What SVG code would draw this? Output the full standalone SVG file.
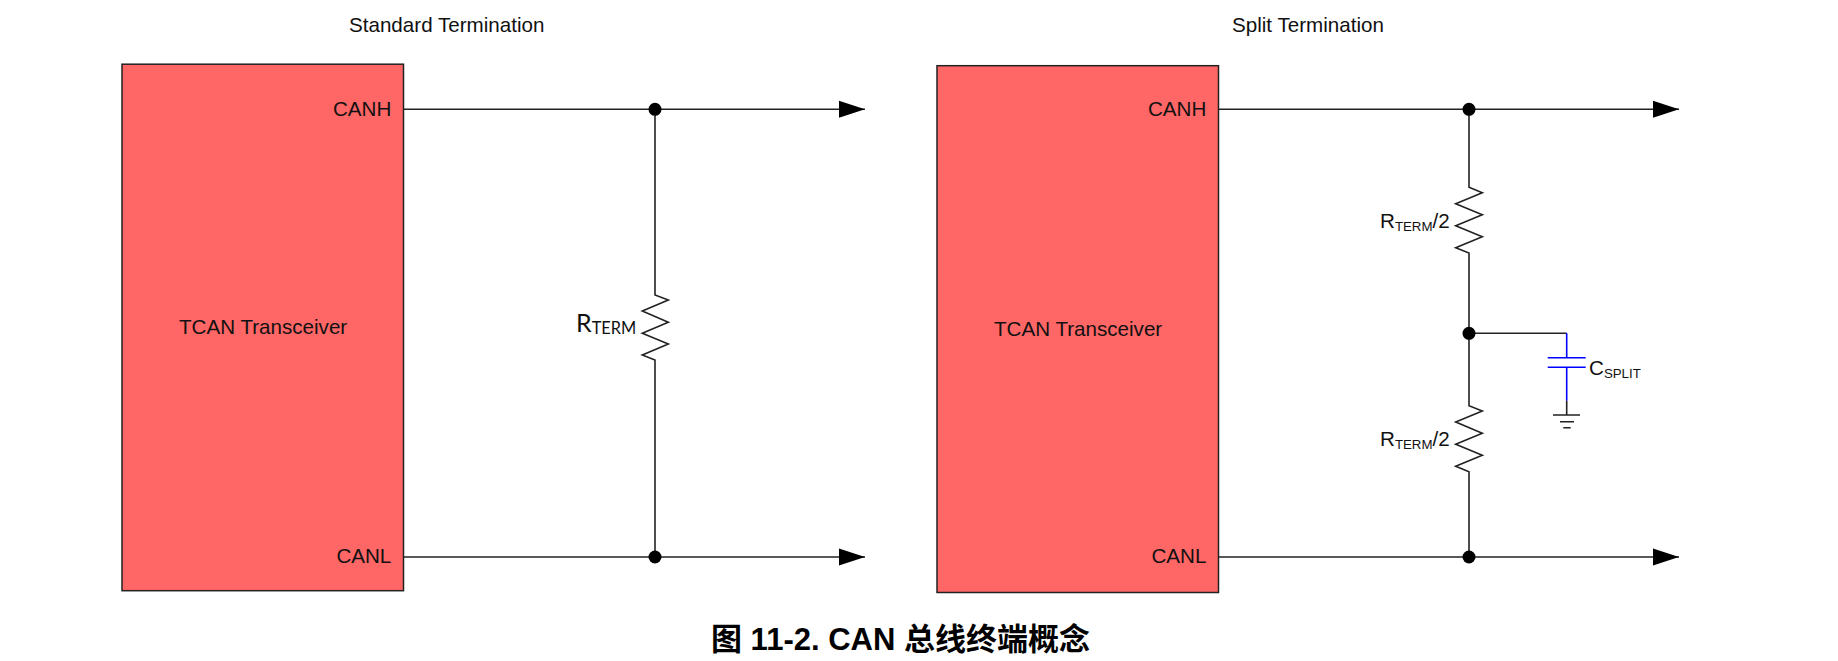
<svg xmlns="http://www.w3.org/2000/svg" width="1838" height="661" viewBox="0 0 1838 661">
<style>
text{font-family:"Liberation Sans",Arial,sans-serif;font-size:20.6px;fill:#111}
.sub{font-size:13.3px}
.lato{font-family:Lato,"Liberation Sans",sans-serif}
.w{fill:none;stroke:#222;stroke-width:1.6}
.b{fill:none;stroke:#00f;stroke-width:1.6}
.box{fill:#f66;stroke:#222;stroke-width:1.5}
.d{fill:#000}
.title{font-family:"Liberation Sans","Noto Sans CJK SC",sans-serif;font-size:31px;font-weight:700;fill:#000}
</style>
<defs>
<marker id="arr" markerUnits="userSpaceOnUse" markerWidth="26" markerHeight="18" refX="26" refY="9" orient="auto"><path d="M0 0.5L26 9L0 17.5Z" fill="#000"/></marker>
</defs>
<rect width="1838" height="661" fill="#fff"/>
<g id="connectors">
<path class="w" d="M404 109.3H865" marker-end="url(#arr)"/>
<path class="w" d="M404 557H865" marker-end="url(#arr)"/>
<path class="w" d="M655 109.3V295L668.3 300L642.3 311L668.3 322.3L642.3 333.3L668.3 344L642.3 355L655 360V557"/>
<path class="w" d="M1218.5 109.3H1679" marker-end="url(#arr)"/>
<path class="w" d="M1218.5 557H1679" marker-end="url(#arr)"/>
<path class="w" d="M1469 109.3V187.3L1482.3 192.7L1455.7 203.7L1482.3 214.7L1455.7 225.7L1482.3 236.7L1455.7 247.7L1469 253V405.7L1482.3 411L1455.7 422L1482.3 433.3L1455.7 444.3L1482.3 455.3L1455.7 466.3L1469 471.7V557"/>
<path class="w" d="M1469 333.3H1566.7"/>
<path class="b" d="M1566.7 333.3V357.7M1547.7 357.7H1585.7M1547.7 367.3H1585.7M1566.7 367.3V400.7"/>
<path class="w" d="M1566.7 400.7V415M1553 415H1580M1560 421.7H1574M1563.3 427.7H1570.7"/>
</g>
<g id="dots">
<ellipse class="d" cx="655" cy="109.3" rx="6.5" ry="6.5"/>
<ellipse class="d" cx="655" cy="557" rx="6.5" ry="6.5"/>
<ellipse class="d" cx="1469" cy="109.3" rx="6.5" ry="6.5"/>
<ellipse class="d" cx="1469" cy="333.3" rx="6.5" ry="6.5"/>
<ellipse class="d" cx="1469" cy="557" rx="6.5" ry="6.5"/>
</g>
<g id="standard-transceiver">
<rect class="box" x="122" y="64.2" width="281.5" height="526.5"/>
<text x="179" y="334">TCAN Transceiver</text>
<text x="333" y="116">CANH</text>
<text x="336.4" y="562.7">CANL</text>
</g>
<g id="split-transceiver">
<rect class="box" x="937" y="65.7" width="281.5" height="526.8"/>
<text x="994" y="336">TCAN Transceiver</text>
<text x="1148" y="116">CANH</text>
<text x="1151.5" y="562.7">CANL</text>
</g>
<g id="rterm"><text class="lato" x="576" y="331.7" style="font-size:25px">R<tspan style="font-size:16.4px" dy="2">TERM</tspan></text></g>
<g id="rterm2-top"><text x="1380" y="228">R<tspan class="sub" dy="2.7">TERM</tspan><tspan dy="-2.7">/2</tspan></text></g>
<g id="rterm2-bottom"><text x="1380" y="446">R<tspan class="sub" dy="2.7">TERM</tspan><tspan dy="-2.7">/2</tspan></text></g>
<g id="csplit"><text x="1589" y="375">C<tspan class="sub" dy="2.7">SPLIT</tspan></text></g>
<g id="headings">
<text x="349" y="32">Standard Termination</text>
<text x="1232" y="32">Split Termination</text>
</g>
<g id="caption"><text class="title" x="711" y="649.5">图 11-2. CAN 总线终端概念</text></g>
</svg>
